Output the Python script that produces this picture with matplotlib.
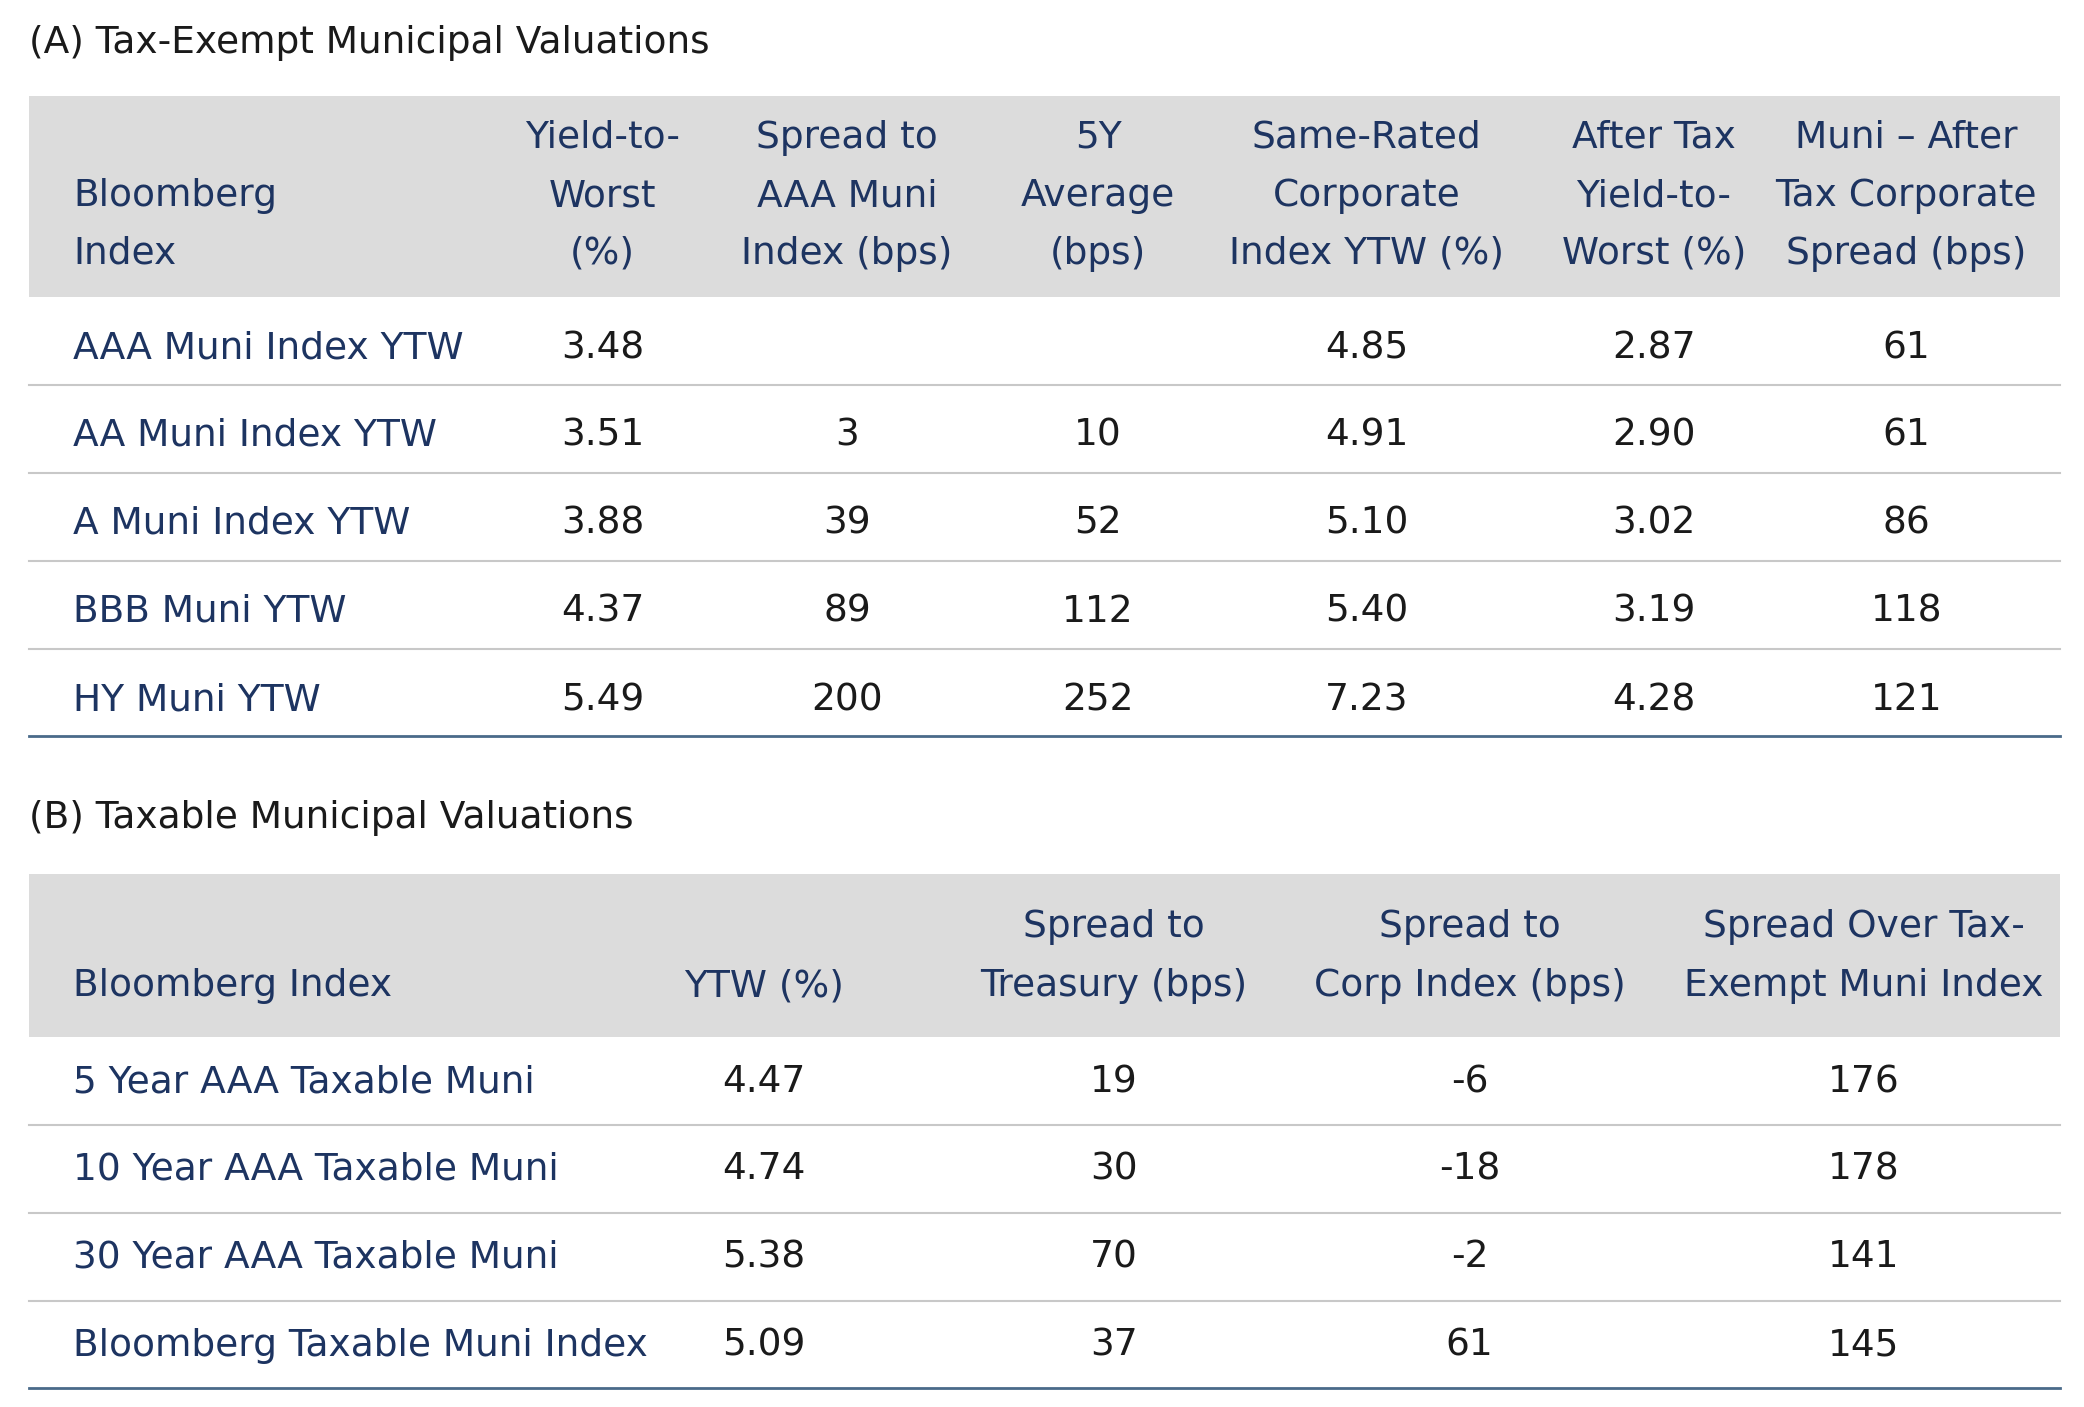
import matplotlib
matplotlib.use("Agg")
import matplotlib.pyplot as plt
from matplotlib import font_manager

names = {f.name for f in font_manager.fontManager.ttflist}
FONT = "Liberation Sans Narrow" if "Liberation Sans Narrow" in names else "DejaVu Sans"
plt.rcParams["font.family"] = FONT

title_a = "(A) Tax-Exempt Municipal Valuations"
headers_a = ["Bloomberg\nIndex", "Yield-to-\nWorst\n(%)", "Spread to\nAAA Muni\nIndex (bps)", "5Y\nAverage\n(bps)",
             "Same-Rated\nCorporate\nIndex YTW (%)", "After Tax\nYield-to-\nWorst (%)", "Muni \u2013 After\nTax Corporate\nSpread (bps)"]
rows_a = ["AAA Muni Index YTW", "AA Muni Index YTW", "A Muni Index YTW", "BBB Muni YTW", "HY Muni YTW"]
ytw_a = ["3.48", "3.51", "3.88", "4.37", "5.49"]
spread_aaa = ["", "3", "39", "89", "200"]
avg5y = ["", "10", "52", "112", "252"]
corp_ytw = ["4.85", "4.91", "5.10", "5.40", "7.23"]
after_tax = ["2.87", "2.90", "3.02", "3.19", "4.28"]
muni_corp = ["61", "61", "86", "118", "121"]

title_b = "(B) Taxable Municipal Valuations"
headers_b = ["Bloomberg Index", "YTW (%)", "Spread to\nTreasury (bps)", "Spread to\nCorp Index (bps)", "Spread Over Tax-\nExempt Muni Index"]
rows_b = ["5 Year AAA Taxable Muni", "10 Year AAA Taxable Muni", "30 Year AAA Taxable Muni", "Bloomberg Taxable Muni Index"]
ytw_b = ["4.47", "4.74", "5.38", "5.09"]
spread_tsy = ["19", "30", "70", "37"]
spread_corp = ["-6", "-18", "-2", "61"]
spread_exempt = ["176", "178", "141", "145"]

W, H = 1560, 1053
fig = plt.figure(figsize=(20.84, 14.07), dpi=100)
ax = fig.add_axes([0, 0, 1, 1])
ax.set_xlim(0, W); ax.set_ylim(H, 0); ax.axis("off")

NAVY = "#1d3461"; TXT = "#1a1a1a"; GREY = "#dcdcdc"; FS = 27
LINE_H = 43.5

def table(title, ty, band, headers, hcols, rows, cols, xs, row_y, seps, bottom):
    ax.text(22, ty, title, fontsize=FS, color=TXT, va="center", ha="left")
    ax.fill_between([22, 1542], band[0], band[1], color=GREY, lw=0)
    nlines = max(h.count("\n") + 1 for h in headers)
    for i, h in enumerate(headers):
        lines = h.split("\n")
        off = nlines - len(lines)
        for j, ln in enumerate(lines):
            y = hcols[off + j]
            if i == 0:
                ax.text(55, y, ln, fontsize=FS, color=NAVY, va="center", ha="left")
            else:
                ax.text(xs[i - 1], y, ln, fontsize=FS, color=NAVY, va="center", ha="center")
    for r, lab in enumerate(rows):
        ax.text(55, row_y[r], lab, fontsize=FS, color=NAVY, va="center", ha="left")
        for c, col in enumerate(cols):
            ax.text(xs[c], row_y[r], col[r], fontsize=FS, color=TXT, va="center", ha="center")
    for s in seps:
        ax.plot([22, 1542], [s, s], color="#c8c8c8", lw=1.5)
    ax.plot([22, 1542], [bottom, bottom], color="#4a6a8a", lw=2)

table(title_a, 32, (72, 222), headers_a, [103, 147, 190],
      rows_a, [ytw_a, spread_aaa, avg5y, corp_ytw, after_tax, muni_corp],
      [451, 634, 822, 1023, 1238, 1427], [261, 326, 392, 458, 524], [288, 354, 420, 486], 551)
table(title_b, 612, (654, 776), headers_b, [694, 738],
      rows_b, [ytw_b, spread_tsy, spread_corp, spread_exempt],
      [572, 834, 1100, 1395], [810, 875, 941, 1007], [842, 908, 974], 1039)

fig.savefig("out.png", dpi=100)
